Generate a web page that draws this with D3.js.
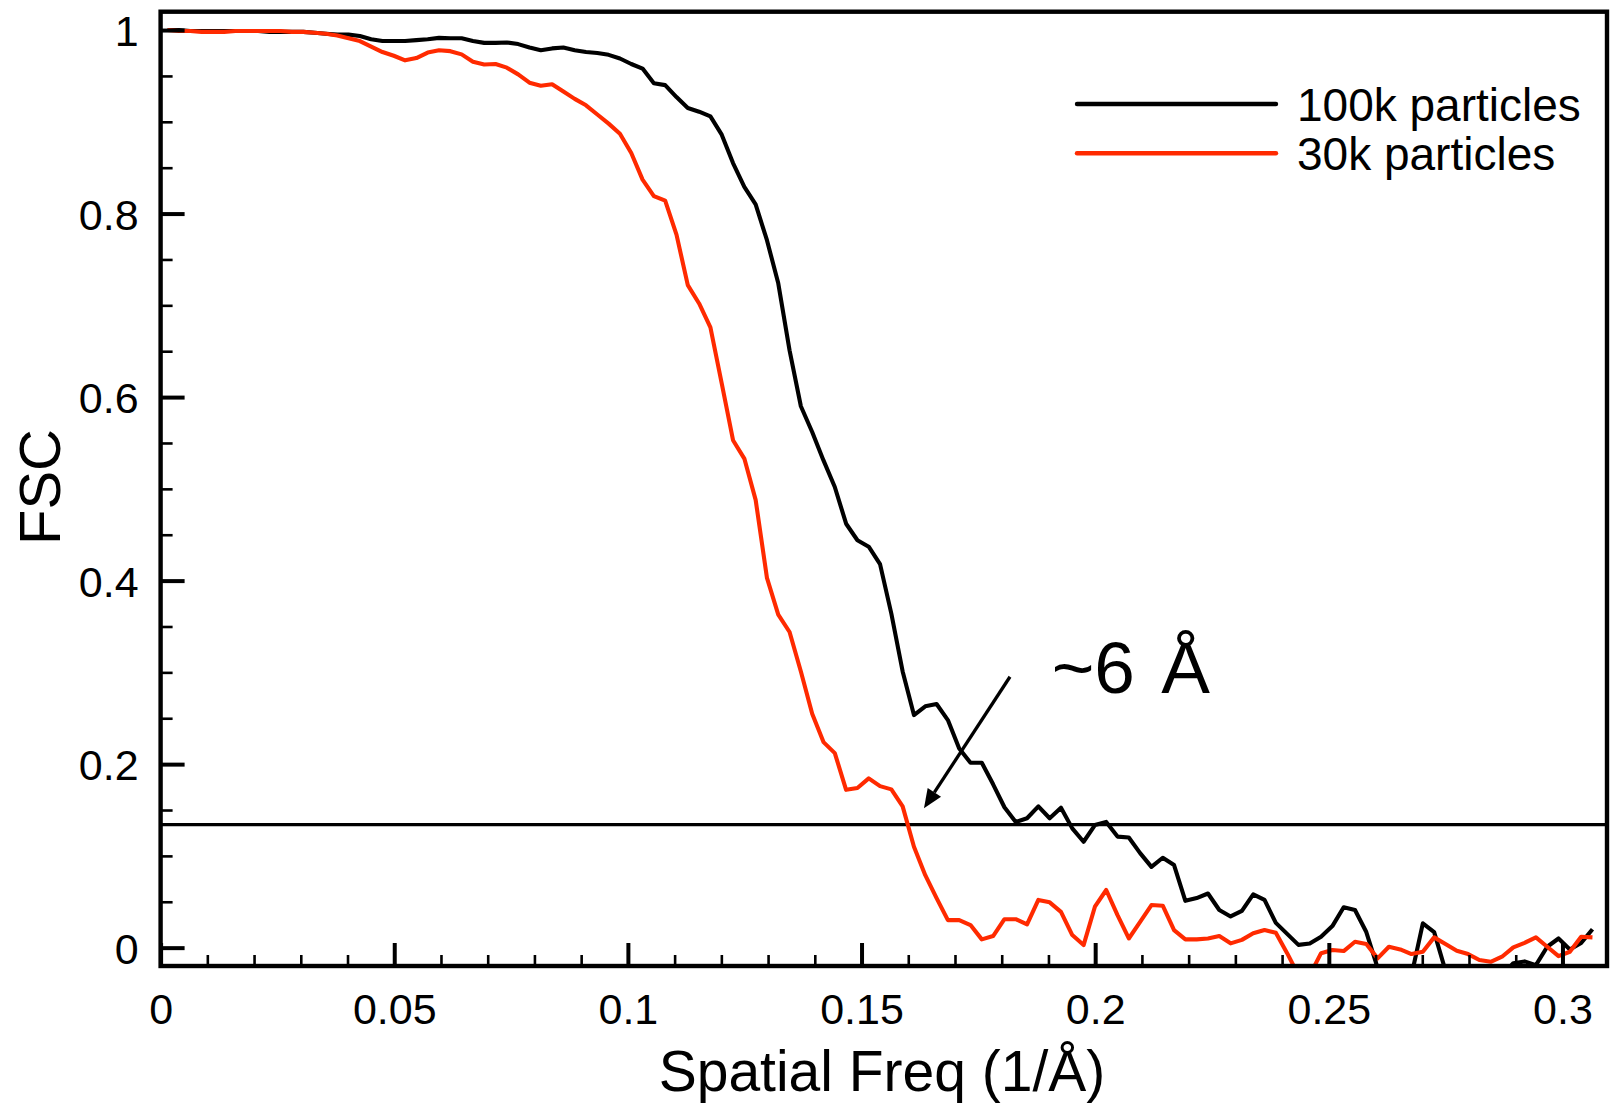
<!DOCTYPE html>
<html>
<head>
<meta charset="utf-8">
<script src="https://cdn.jsdelivr.net/npm/d3@7"></script>
<style>
  html, body { margin: 0; padding: 0; background: #ffffff; }
  svg { display: block; }
</style>
</head>
<body>
<svg id="chart" width="1610" height="1105"></svg>
<script>
// ---------------- DATA ----------------
const freq = [
  0.0015, 0.00392, 0.00634, 0.00876, 0.01118, 0.0136, 0.01602, 0.01844, 0.02086, 0.02328,
  0.0257, 0.02812, 0.03054, 0.03296, 0.03538, 0.0378, 0.04022, 0.04264, 0.04506, 0.04748,
  0.0499, 0.05232, 0.05474, 0.05716, 0.05958, 0.062, 0.06442, 0.06684, 0.06926, 0.07168,
  0.0741, 0.07652, 0.07894, 0.08136, 0.08378, 0.0862, 0.08862, 0.09104, 0.09346, 0.09588,
  0.0983, 0.10072, 0.10314, 0.10556, 0.10798, 0.1104, 0.11282, 0.11524, 0.11766, 0.12008,
  0.1225, 0.12492, 0.12734, 0.12976, 0.13218, 0.1346, 0.13702, 0.13944, 0.14186, 0.14428,
  0.1467, 0.14912, 0.15154, 0.15396, 0.15638, 0.1588, 0.16122, 0.16364, 0.16606, 0.16848,
  0.1709, 0.17332, 0.17574, 0.17816, 0.18058, 0.183, 0.18542, 0.18784, 0.19026, 0.19268,
  0.1951, 0.19752, 0.19994, 0.20236, 0.20478, 0.2072, 0.20962, 0.21204, 0.21446, 0.21688,
  0.2193, 0.22172, 0.22414, 0.22656, 0.22898, 0.2314, 0.23382, 0.23624, 0.23866, 0.24108,
  0.2435, 0.24592, 0.24834, 0.25076, 0.25318, 0.2556, 0.25802, 0.26044, 0.26286, 0.26528,
  0.2677, 0.27012, 0.27254, 0.27496, 0.27738, 0.2798, 0.28222, 0.28464, 0.28706, 0.28948,
  0.2919, 0.29432, 0.29674, 0.29916, 0.30158, 0.304, 0.30642
];

const fsc100k = [
  1.000, 1.000, 0.999, 0.999, 0.999, 0.999, 0.999, 0.999, 0.999, 0.998,
  0.998, 0.998, 0.998, 0.997, 0.996, 0.995, 0.995, 0.9935, 0.990, 0.988,
  0.988, 0.988, 0.989, 0.990, 0.9915, 0.991, 0.991, 0.988, 0.986, 0.986,
  0.9865, 0.9847, 0.981, 0.978, 0.980, 0.981, 0.978, 0.976, 0.975, 0.973,
  0.969, 0.963, 0.958, 0.942, 0.940, 0.927, 0.915, 0.911, 0.906, 0.886,
  0.855, 0.829, 0.810, 0.771, 0.724, 0.651, 0.590, 0.562, 0.531, 0.502,
  0.462, 0.444, 0.437, 0.418, 0.364, 0.301, 0.2535, 0.263, 0.2655, 0.248,
  0.217, 0.2015, 0.2015, 0.178, 0.153, 0.137, 0.141, 0.154, 0.141, 0.1525,
  0.130, 0.1154, 0.1336, 0.137, 0.121, 0.120, 0.103, 0.088, 0.098, 0.090,
  0.051, 0.054, 0.059, 0.041, 0.034, 0.040, 0.058, 0.052, 0.027, 0.015,
  0.003, 0.0045, 0.012, 0.0235, 0.044, 0.041, 0.017, -0.022, -0.045, -0.040,
  -0.030, 0.0265, 0.017, -0.025, -0.045, -0.050, -0.045, -0.040, -0.030, -0.017,
  -0.015, -0.019, 0.001, 0.010, -0.002, 0.005, 0.020
];

const fsc30k = [
  1.000, 0.999, 0.999, 0.998, 0.998, 0.998, 0.999, 0.999, 0.999, 0.999,
  0.999, 0.998, 0.998, 0.997, 0.996, 0.994, 0.991, 0.988, 0.982, 0.976,
  0.972, 0.967, 0.9695, 0.9755, 0.978, 0.977, 0.9735, 0.9655, 0.9625, 0.963,
  0.959, 0.9517, 0.9426, 0.9393, 0.941, 0.933, 0.925, 0.918, 0.908, 0.898,
  0.887, 0.866, 0.837, 0.819, 0.814, 0.777, 0.722, 0.702, 0.676, 0.615,
  0.553, 0.533, 0.488, 0.403, 0.363, 0.344, 0.301, 0.255, 0.224, 0.212,
  0.172, 0.174, 0.1845, 0.176, 0.1725, 0.154, 0.110, 0.079, 0.054, 0.030,
  0.030, 0.0246, 0.009, 0.0126, 0.031, 0.031, 0.0254, 0.052, 0.0494, 0.039,
  0.0137, 0.0028, 0.0446, 0.0628, 0.0355, 0.010, 0.028, 0.0464, 0.0457, 0.019,
  0.009, 0.009, 0.010, 0.0126, 0.0047, 0.0085, 0.0156, 0.0192, 0.0162, -0.006,
  -0.030, -0.030, -0.006, -0.0026, -0.0037, 0.0064, 0.0039, -0.0117, 0.001, -0.0019,
  -0.007, -0.0045, 0.0112, 0.0039, -0.0034, -0.007, -0.0135, -0.0154, -0.0099, 0.0003,
  0.0053, 0.0112, 0.001, -0.0092, -0.0045, 0.0119, 0.0112
];

const seriesNames = ["100k particles", "30k particles"];
const seriesColors = ["#000000", "#ff2a00"];

const xTickValues = [0, 0.05, 0.1, 0.15, 0.2, 0.25, 0.3];
const xTickLabels = ["0", "0.05", "0.1", "0.15", "0.2", "0.25", "0.3"];
const xMinorTicks = [0.01, 0.02, 0.03, 0.04, 0.06, 0.07, 0.08, 0.09, 0.11, 0.12, 0.13, 0.14,
                     0.16, 0.17, 0.18, 0.19, 0.21, 0.22, 0.23, 0.24, 0.26, 0.27, 0.28, 0.29];
const yTickValues = [0, 0.2, 0.4, 0.6, 0.8, 1];
const yTickLabels = ["0", "0.2", "0.4", "0.6", "0.8", "1"];
const yMinorTicks = [0.05, 0.1, 0.15, 0.25, 0.3, 0.35, 0.45, 0.5, 0.55, 0.65, 0.7, 0.75, 0.85, 0.9, 0.95];

const thresholdValue = 0.134;
const annotationText = "~6 Å";
const arrowFrom = [0.18177, 0.2952];
const arrowTo = [0.16336, 0.1518];
const annotationPos = [0.1907, 0.2771];

const xTitle = "Spatial Freq (1/Å)";
const yTitle = "FSC";

// ---------------- LAYOUT ----------------
const FONT = "'Liberation Sans', Arial, Helvetica, sans-serif";
const plot = { left: 160.6, right: 1607, top: 11.7, bottom: 966 };

const x = d3.scaleLinear().domain([0, 0.30953]).range([plot.left, plot.right]);
const y = d3.scaleLinear().domain([-0.02, 1.02]).range([plot.bottom, plot.top]);

const svg = d3.select("#chart");
svg.append("rect").attr("width", 1610).attr("height", 1105).attr("fill", "#fff");

svg.append("defs").append("clipPath").attr("id", "plotclip")
  .append("rect")
  .attr("x", plot.left).attr("y", plot.top)
  .attr("width", plot.right - plot.left).attr("height", plot.bottom - plot.top);

// threshold line
svg.append("line")
  .attr("x1", x(0)).attr("x2", x(0.30953))
  .attr("y1", y(thresholdValue)).attr("y2", y(thresholdValue))
  .attr("stroke", "#000").attr("stroke-width", 3.3);

// curves
const lineGen = d3.line().x(d => x(d[0])).y(d => y(d[1]));
const seriesData = [fsc100k, fsc30k];
const curves = svg.append("g").attr("clip-path", "url(#plotclip)");
seriesData.forEach((vals, k) => {
  curves.append("path")
    .datum(freq.map((f, i) => [f, vals[i]]))
    .attr("d", lineGen)
    .attr("fill", "none")
    .attr("stroke", seriesColors[k])
    .attr("stroke-width", 4.1)
    .attr("stroke-linejoin", "round")
    .attr("stroke-linecap", "butt");
});

// axes
function styleAxis(g, width) {
  g.attr("font-family", FONT).attr("font-size", 43);
  g.select(".domain").remove();
  g.selectAll(".tick line").attr("stroke", "#000").attr("stroke-width", width);
  g.selectAll(".tick text").attr("fill", "#000");
}

const gxMinor = svg.append("g").attr("transform", `translate(0,${plot.bottom})`)
  .call(d3.axisBottom(x).tickValues(xMinorTicks).tickSize(-11).tickFormat(""));
styleAxis(gxMinor, 2.6);

const gx = svg.append("g").attr("transform", `translate(0,${plot.bottom})`)
  .call(d3.axisBottom(x).tickValues(xTickValues).tickSize(-23).tickPadding(27)
    .tickFormat((d, i) => xTickLabels[i]));
styleAxis(gx, 4);

const gyMinor = svg.append("g").attr("transform", `translate(${plot.left},0)`)
  .call(d3.axisLeft(y).tickValues(yMinorTicks).tickSize(-12).tickFormat(""));
styleAxis(gyMinor, 2.6);

const gy = svg.append("g").attr("transform", `translate(${plot.left},0)`)
  .call(d3.axisLeft(y).tickValues(yTickValues).tickSize(-24).tickPadding(22)
    .tickFormat((d, i) => yTickLabels[i]));
styleAxis(gy, 4);
gy.selectAll(".tick text").attr("dy", "0.36em");

// frame
svg.append("rect")
  .attr("x", plot.left).attr("y", plot.top)
  .attr("width", plot.right - plot.left).attr("height", plot.bottom - plot.top)
  .attr("fill", "none").attr("stroke", "#000").attr("stroke-width", 4.4);

// axis titles
svg.append("text")
  .attr("x", 882).attr("y", 1091)
  .attr("text-anchor", "middle")
  .attr("font-family", FONT).attr("font-size", 57)
  .text(xTitle);

svg.append("text")
  .attr("transform", "translate(60,487) rotate(-90)")
  .attr("text-anchor", "middle")
  .attr("font-family", FONT).attr("font-size", 58)
  .text(yTitle);

// legend
const legend = svg.append("g");
seriesNames.forEach((name, k) => {
  const ly = 104 + k * 49.3;
  legend.append("line")
    .attr("x1", 1077).attr("x2", 1276).attr("y1", ly).attr("y2", ly)
    .attr("stroke", seriesColors[k]).attr("stroke-width", 4.4)
    .attr("stroke-linecap", "round");
  legend.append("text")
    .attr("x", 1297).attr("y", ly + 16.5)
    .attr("font-family", FONT).attr("font-size", 46)
    .attr("fill", "#000")
    .text(name);
});

// annotation arrow
const ax1 = x(arrowFrom[0]), ay1 = y(arrowFrom[1]);
const ax2 = x(arrowTo[0]), ay2 = y(arrowTo[1]);
const ang = Math.atan2(ay2 - ay1, ax2 - ax1);
const headLen = 19, headHalf = 8;
const bx = ax2 - headLen * Math.cos(ang), by = ay2 - headLen * Math.sin(ang);
svg.append("line")
  .attr("x1", ax1).attr("y1", ay1).attr("x2", bx).attr("y2", by)
  .attr("stroke", "#000").attr("stroke-width", 3.3);
svg.append("path")
  .attr("d", d3.line()([
    [ax2, ay2],
    [bx + headHalf * Math.sin(ang), by - headHalf * Math.cos(ang)],
    [bx - headHalf * Math.sin(ang), by + headHalf * Math.cos(ang)]
  ]) + "Z")
  .attr("fill", "#000");

svg.append("text")
  .attr("x", x(annotationPos[0])).attr("y", y(annotationPos[1]))
  .attr("font-family", FONT).attr("font-size", 73)
  .attr("fill", "#000")
  .attr("word-spacing", 6)
  .text(annotationText);
</script>
</body>
</html>
